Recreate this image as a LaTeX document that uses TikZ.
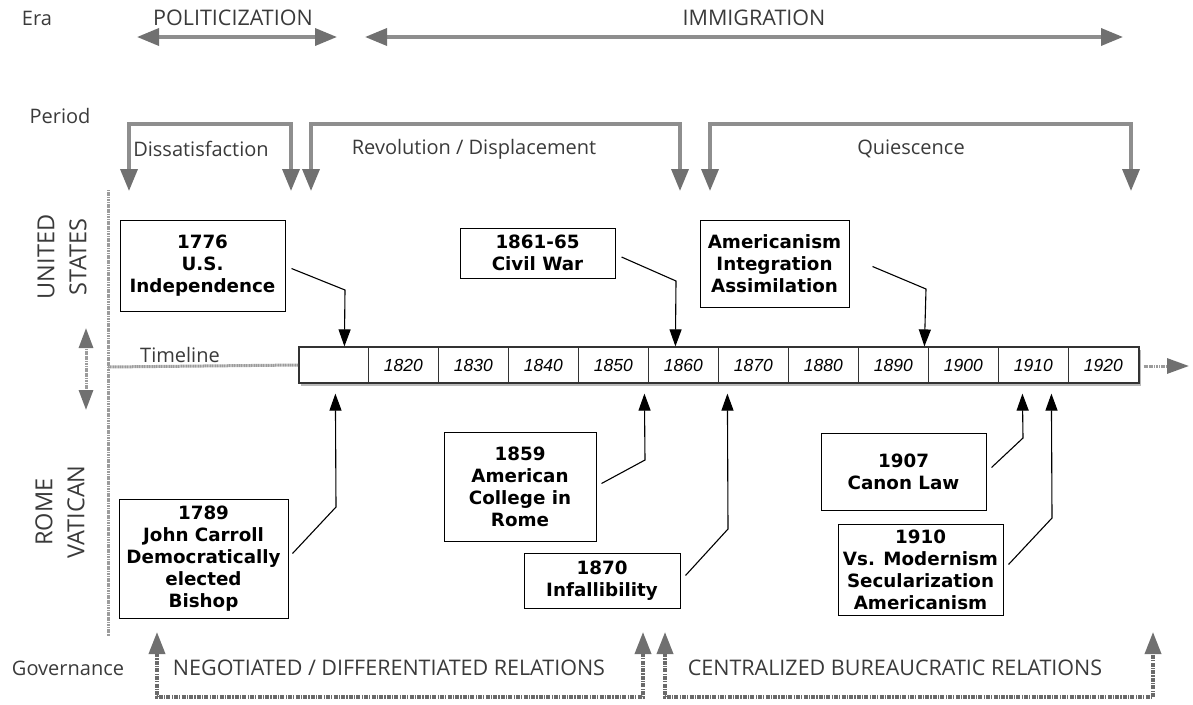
\documentclass[tikz,border=0pt]{standalone}
\usepackage{fontspec}
\setmainfont{Open Sans}
\newfontfamily\boxfont{DejaVu Sans}
\newfontfamily\yearfont{Liberation Sans}
\usetikzlibrary{arrows.meta,calc,shadows}

\definecolor{labelgray}{HTML}{3A3A3A}
\definecolor{shaftgray}{HTML}{8E8E8E}
\definecolor{headgray}{HTML}{707070}
\definecolor{dotgray}{HTML}{9C9C9C}
\definecolor{govgray}{HTML}{6A6A6A}

\tikzset{
  lbl/.style={text=labelgray, inner sep=0pt, font=\fontsize{20}{24}\selectfont},
  capslbl/.style={text=labelgray, inner sep=0pt, font=\fontsize{21.5}{25}\selectfont},
  sidelbl/.style={text=labelgray, inner sep=0pt, align=center, rotate=90,
    font=\fontsize{23.5}{32}\selectfont},
  eraarrow/.style={draw=shaftgray, line width=3.5pt, {Triangle[length=22pt, width=17pt, color=headgray]}-{Triangle[length=22pt, width=17pt, color=headgray]}},
  bracket/.style={draw=shaftgray, line width=3.5pt, line join=miter,
    {Triangle[length=22pt, width=17pt, color=headgray]}-{Triangle[length=22pt, width=17pt, color=headgray]}},
  govbracket/.style={draw=govgray, line width=3.6pt,
    dash pattern=on 4pt off 1.2pt on 1.2pt off 1.2pt,
    {Triangle[length=22pt, width=16pt, color=headgray]}-{Triangle[length=22pt, width=16pt, color=headgray]}},
  dotline/.style={draw=dotgray, line width=3pt, dash pattern=on 1.2pt off 0.5pt},
  evbox/.style={draw=black, line width=1pt, fill=white, align=center, inner sep=0pt,
    font=\boxfont\bfseries\fontsize{18.3}{22}\selectfont},
  evarrow/.style={draw=black, line width=1.1pt, -{Triangle[length=17pt, width=12pt]}},
  year/.style={inner sep=0pt, font=\yearfont\itshape\fontsize{17.5}{20}\selectfont}
}

\begin{document}
\begin{tikzpicture}[x=1pt, y=-1pt]
\useasboundingbox (0,0) rectangle (1193,704);

% ---- row labels ----
\node[lbl] (era) at (37,18) {Era};
\node[lbl] (period) at (60,116) {Period};
\node[lbl] (gov) at (68,668) {Governance};
\node[lbl] (tline) at (180,355) {Timeline};
\node[sidelbl] (us) at (62,257) {UNITED\\STATES};
\node[sidelbl] (rome) at (60,512) {ROME\\VATICAN};

% ---- eras ----
\node[capslbl] (polit) at (233,18) {POLITICIZATION};
\node[capslbl] (immig) at (754,18) {IMMIGRATION};
\coordinate (e1l) at (137,37);
\coordinate (e1r) at (337,37);
\coordinate (e2l) at (365,37);
\coordinate (e2r) at (1123,37);
\draw[eraarrow] (e1l) -- (e1r);
\draw[eraarrow] (e2l) -- (e2r);

% ---- periods ----
\node[lbl] (diss) at (201,149) {Dissatisfaction};
\node[lbl] (revo) at (474,149) {Revolution / Displacement};
\node[lbl] (quie) at (911,149) {Quiescence};
\coordinate (p1l) at (129,191);
\coordinate (p1r) at (291,191);
\coordinate (p2l) at (311,191);
\coordinate (p2r) at (680,191);
\coordinate (p3l) at (710,191);
\coordinate (p3r) at (1131,191);
\draw[bracket] (p1l) -- (129,124) -- (291,124) -- (p1r);
\draw[bracket] (p2l) -- (311,124) -- (680,124) -- (p2r);
\draw[bracket] (p3l) -- (710,124) -- (1131,124) -- (p3r);

% ---- divider between the two sides ----
\coordinate (vtop) at (108,190);
\coordinate (vbot) at (108,636);
\draw[dotline] (vtop) -- (vbot);

% small two-way arrow between United States and Rome
\coordinate (sa1) at (86,328);
\coordinate (sa2) at (86,410);
\draw[dotline, {Triangle[length=20pt, width=14pt, color=headgray]}-{Triangle[length=20pt, width=14pt, color=headgray]}] (sa1) -- (sa2);

% ---- the timeline ----
\node[draw=black!80, line width=1.2pt, fill=white, minimum width=840pt, minimum height=36pt,
      inner sep=0pt, drop shadow={shadow xshift=2pt, shadow yshift=-3pt, opacity=0.55}]
      (tl) at (719,365) {};
\foreach \k in {1,...,11} {
  \draw[black!80, line width=1pt] ($(tl.north west)+(70*\k,0)$) -- ($(tl.south west)+(70*\k,0)$);
}
\foreach \k [evaluate=\k as \yr using int(1810+10*\k)] in {1,...,11} {
  \node[year] (y\k) at ($(tl.west)+(70*\k+35,0)$) {\yr};
}
\coordinate (tlin) at (108,367);
\draw[dotline] (tlin) -- (tl.west);
\coordinate (tlend) at (1189,366);
\draw[dotline, -{Triangle[length=22pt, width=15pt, color=headgray]}] ($(tl.east)+(4,1)$) -- (tlend);

% ---- United States events ----
\node[evbox, minimum width=165pt, minimum height=91pt] (b1776) at (202.5,265.5)
  {1776\\U.S.\\Independence};
\node[evbox, minimum width=155pt, minimum height=50pt] (b1861) at (537.5,253)
  {1861-65\\Civil War};
\node[evbox, minimum width=149pt, minimum height=87pt] (bamer) at (774.5,263.5)
  {Americanism\\Integration\\Assimilation};

\draw[evarrow] ($(b1776.east)+(6,3)$) -- (345,290) -- ($(tl.north west)+(46,0)$);
\draw[evarrow] ($(b1861.east)+(6,4)$) -- (676,281) -- ($(tl.north west)+(377,0)$);
\draw[evarrow] ($(bamer.east)+(23,3)$) -- (926,289) -- ($(tl.north west)+(626,0)$);

% ---- Rome / Vatican events ----
\node[evbox, minimum width=169pt, minimum height=119pt] (b1789) at (203.5,558.5)
  {1789\\John Carroll\\Democratically\\elected\\Bishop};
\node[evbox, minimum width=152pt, minimum height=109pt] (b1859) at (520,486.5)
  {1859\\American\\College in\\Rome};
\node[evbox, minimum width=156pt, minimum height=55pt] (b1870) at (602,580.5)
  {1870\\Infallibility};
\node[evbox, minimum width=165pt, minimum height=77pt] (b1907) at (903.5,471.5)
  {1907\\Canon Law};
\node[evbox, minimum width=165pt, minimum height=91pt] (b1910) at (920.5,569.5)
  {1910\\Vs. Modernism\\Secularization\\Americanism};

\draw[evarrow] ($(b1789.east)+(4,-5)$) -- (336,507) -- ($(tl.south west)+(37,10)$);
\draw[evarrow] ($(b1859.east)+(5,-3)$) -- (645,460) -- ($(tl.south west)+(346,10)$);
\draw[evarrow] ($(b1870.east)+(5,-5)$) -- (728,529) -- ($(tl.south west)+(429,10)$);
\draw[evarrow] ($(b1907.east)+(5,-4)$) -- (1023,438) -- ($(tl.south west)+(724,10)$);
\draw[evarrow] ($(b1910.east)+(5,-5)$) -- (1052,518) -- ($(tl.south west)+(753,10)$);

% ---- governance ----
\node[capslbl] (negot) at (389,668) {NEGOTIATED / DIFFERENTIATED RELATIONS};
\node[capslbl] (centr) at (895,668) {CENTRALIZED BUREAUCRATIC RELATIONS};
\coordinate (g1l) at (157,632);
\coordinate (g1r) at (643,632);
\coordinate (g2l) at (665,632);
\coordinate (g2r) at (1153,632);
\draw[govbracket] (g1l) -- (157,697) -- (643,697) -- (g1r);
\draw[govbracket] (g2l) -- (665,697) -- (1153,697) -- (g2r);
\end{tikzpicture}
\end{document}
